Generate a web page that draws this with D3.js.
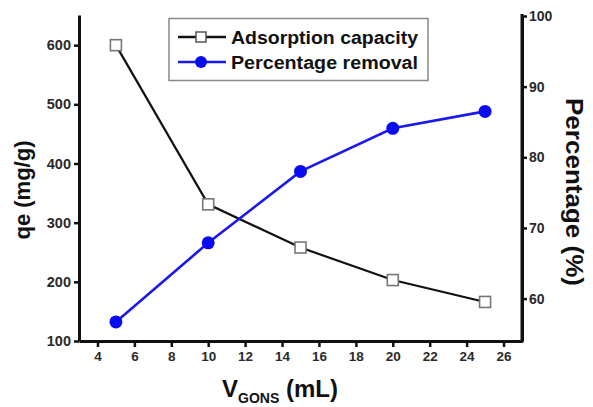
<!DOCTYPE html>
<html>
<head>
<meta charset="utf-8">
<script src="https://cdn.jsdelivr.net/npm/d3@7"></script>
<style>
  html, body { margin: 0; padding: 0; background: #fff; }
  svg { display: block; font-family: "Liberation Sans", Arial, sans-serif; }
</style>
</head>
<body>
<svg id="chart" width="593" height="407"></svg>
<script>
// Volume of GONS dispersion (mL)
const volumes = [5, 10, 15, 20, 25];
// Adsorption capacity qe (mg/g), left axis
const capacity = [600, 331, 258, 203, 166];
// Percentage removal (%), right axis
const removal = [56.7, 67.9, 78.0, 84.1, 86.5];

const xTicks = [4, 6, 8, 10, 12, 14, 16, 18, 20, 22, 24, 26];
const yLeftTicks = [100, 200, 300, 400, 500, 600];
const yRightTicks = [60, 70, 80, 90, 100];

const svg = d3.select("#chart");
const plotLeft = 79, plotRight = 522, plotTop = 15, plotBottom = 341;

const x = d3.scaleLinear().domain([3, 27]).range([plotLeft, plotRight]);
const yL = d3.scaleLinear().domain([100, 651]).range([plotBottom, plotTop]);
const yR = d3.scaleLinear().domain([54, 100]).range([plotBottom, 16]);

const axisColor = "#111";
const labelColor = "#2a2a2a";

function styleAxis(size) {
  return g => {
    g.selectAll(".domain").attr("stroke", axisColor).attr("stroke-width", 3);
    g.selectAll(".tick line").attr("stroke", axisColor).attr("stroke-width", 2.5);
    g.selectAll(".tick text")
      .attr("fill", labelColor)
      .style("font-size", size + "px")
      .style("font-weight", "bold")
      .style("font-family", "'Liberation Sans', Arial, sans-serif");
  };
}

// bottom axis
svg.append("g")
  .attr("transform", `translate(0,${plotBottom})`)
  .call(d3.axisBottom(x).tickValues(xTicks).tickSize(6).tickSizeOuter(0).tickPadding(4))
  .call(styleAxis(13.5));

// left axis
svg.append("g")
  .attr("transform", `translate(${plotLeft},0)`)
  .call(d3.axisLeft(yL).tickValues(yLeftTicks).tickSize(5).tickSizeOuter(0).tickPadding(3))
  .call(styleAxis(14.5));

// right axis
svg.append("g")
  .attr("transform", `translate(${plotRight},0)`)
  .call(d3.axisRight(yR).tickValues(yRightTicks).tickSize(5).tickSizeOuter(0).tickPadding(2))
  .call(styleAxis(14));

// extend right axis line down to the bottom frame
svg.append("line")
  .attr("x1", plotRight).attr("x2", plotRight)
  .attr("y1", 14).attr("y2", plotBottom + 1.5)
  .attr("stroke", axisColor).attr("stroke-width", 3);

// series lines
const capLine = d3.line().x((d, i) => x(volumes[i])).y(d => yL(d));
const remLine = d3.line().x((d, i) => x(volumes[i])).y(d => yR(d));

svg.append("path")
  .datum(capacity)
  .attr("d", capLine)
  .attr("fill", "none")
  .attr("stroke", "#111")
  .attr("stroke-width", 2.2);

svg.append("path")
  .datum(removal)
  .attr("d", remLine)
  .attr("fill", "none")
  .attr("stroke", "#1a1aee")
  .attr("stroke-width", 2.6);

// square markers
svg.selectAll("rect.cap")
  .data(capacity)
  .join("rect")
  .attr("class", "cap")
  .attr("x", (d, i) => x(volumes[i]) - 5.5)
  .attr("y", d => yL(d) - 5.5)
  .attr("width", 11).attr("height", 11)
  .attr("fill", "#fff")
  .attr("stroke", "#777")
  .attr("stroke-width", 1.6);

// circle markers
svg.selectAll("circle.rem")
  .data(removal)
  .join("circle")
  .attr("class", "rem")
  .attr("cx", (d, i) => x(volumes[i]))
  .attr("cy", d => yR(d))
  .attr("r", 6.5)
  .attr("fill", "#0b0bf0");

// legend
const lg = svg.append("g");
lg.append("rect")
  .attr("x", 169).attr("y", 18.5)
  .attr("width", 259).attr("height", 62)
  .attr("fill", "#fff")
  .attr("stroke", "#888").attr("stroke-width", 1.5);

const legendItems = [
  { label: "Adsorption capacity", color: "#111", marker: "square", y: 37 },
  { label: "Percentage removal", color: "#1a1aee", marker: "circle", y: 62 }
];
legendItems.forEach(it => {
  lg.append("line")
    .attr("x1", 178).attr("x2", 226)
    .attr("y1", it.y).attr("y2", it.y)
    .attr("stroke", it.color).attr("stroke-width", 2.6);
  if (it.marker === "square") {
    lg.append("rect")
      .attr("x", 196).attr("y", it.y - 5).attr("width", 10).attr("height", 10)
      .attr("fill", "#fff").attr("stroke", "#555").attr("stroke-width", 1.5);
  } else {
    lg.append("circle")
      .attr("cx", 201).attr("cy", it.y).attr("r", 6)
      .attr("fill", "#0b0bf0");
  }
  lg.append("text")
    .attr("x", 231).attr("y", it.y + 6.5)
    .attr("fill", "#111")
    .attr("textLength", 187)
    .attr("lengthAdjust", "spacingAndGlyphs")
    .style("font-size", "18px")
    .style("font-weight", "bold")
    .text(it.label);
});

// axis titles
svg.append("text")
  .attr("transform", `translate(30,190) rotate(-90)`)
  .attr("text-anchor", "middle")
  .attr("fill", "#111")
  .style("font-size", "22px")
  .style("font-weight", "bold")
  .text("qe (mg/g)");

svg.append("text")
  .attr("transform", `translate(566,192) rotate(90)`)
  .attr("text-anchor", "middle")
  .attr("fill", "#111")
  .style("font-size", "23px")
  .style("font-weight", "bold")
  .attr("textLength", 188)
  .attr("lengthAdjust", "spacingAndGlyphs")
  .text("Percentage (%)");

const xt = svg.append("text")
  .attr("x", 222)
  .attr("y", 397)
  .attr("fill", "#111")
  .style("font-size", "24px")
  .style("font-weight", "bold");
xt.append("tspan").text("V");
xt.append("tspan").attr("dy", 6).style("font-size", "14px").text("GONS");
xt.append("tspan").attr("dy", -6).text(" (mL)");
</script>
</body>
</html>
